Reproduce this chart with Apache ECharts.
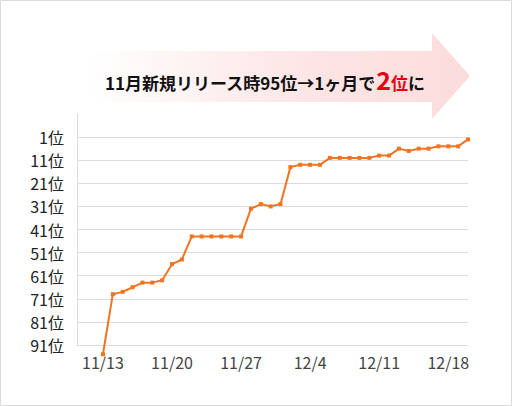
<!DOCTYPE html>
<html>
<head>
<meta charset="utf-8">
<script src="https://cdn.jsdelivr.net/npm/echarts@6/dist/echarts.min.js"></script>
<style>
  html, body { margin: 0; padding: 0; background: #fff; }
  #chart { width: 512px; height: 406px; }
</style>
</head>
<body>
<div id="chart"></div>
<script>
// Daily ranking after release
const dates = [
  '11/13','11/14','11/15','11/16','11/17','11/18','11/19',
  '11/20','11/21','11/22','11/23','11/24','11/25','11/26',
  '11/27','11/28','11/29','11/30','12/1','12/2','12/3',
  '12/4','12/5','12/6','12/7','12/8','12/9','12/10',
  '12/11','12/12','12/13','12/14','12/15','12/16','12/17',
  '12/18','12/19','12/20'
];
const ranks = [
  95, 69, 68, 66, 64, 64, 63,
  56, 54, 44, 44, 44, 44, 44,
  44, 32, 30, 31, 30, 14, 13,
  13, 13, 10, 10, 10, 10, 10,
  9, 9, 6, 7, 6, 6, 5,
  5, 5, 2
];
const rankTicks = [1, 11, 21, 31, 41, 51, 61, 71, 81, 91];
const dateTicks = ['11/13', '11/20', '11/27', '12/4', '12/11', '12/18'];

const headline = '11月新規リリース時95位→1ヶ月で';
const headlineRank = '2';
const headlineUnit = '位';
const headlineTail = 'に';

const chart = echarts.init(document.getElementById('chart'), null, { renderer: 'svg' });

// axis values are rank - 1 so the grid ticks fall on multiples of 10
const seriesData = ranks.map((r, i) => [i, r - 1]);
const labelIdx = dateTicks.map(d => dates.indexOf(d));

const font = '"Noto Sans CJK JP", "Noto Sans", sans-serif';

chart.setOption({
  animation: false,
  backgroundColor: '#fff',
  grid: { left: 77, right: 44, top: 114, bottom: 61, containLabel: false },
  xAxis: {
    type: 'value',
    min: -2.63,
    max: dates.length - 1,
    axisLine: { show: true, onZero: false, lineStyle: { color: '#dcdcdc', width: 1 } },
    axisTick: { show: false },
    splitLine: { show: false },
    axisLabel: {
      customValues: labelIdx,
      formatter: v => dates[Math.round(v)] || '',
      color: '#444',
      fontSize: 16,
      fontFamily: font,
      margin: 9
    }
  },
  yAxis: {
    type: 'value',
    inverse: true,
    min: -10,
    max: 90,
    interval: 10,
    axisLine: { show: true, onZero: false, lineStyle: { color: '#dcdcdc', width: 1 } },
    axisTick: { show: false },
    splitLine: { show: true, showMinLine: false, lineStyle: { color: '#dcdcdc', width: 1 } },
    axisLabel: {
      formatter: v => (rankTicks.indexOf(v + 1) >= 0 ? (v + 1) + '位' : ''),
      color: '#222',
      fontSize: 16,
      fontFamily: font,
      margin: 13
    }
  },
  series: [{
    type: 'line',
    data: seriesData,
    clip: false,
    symbol: 'rect',
    symbolSize: 4,
    showAllSymbol: true,
    lineStyle: { color: '#f07422', width: 2 },
    itemStyle: { color: '#f07422' }
  }],
  graphic: [
    {
      type: 'rect',
      shape: { x: 0.5, y: 0.5, width: 511, height: 405 },
      style: { fill: 'none', stroke: '#dcdcdc', lineWidth: 1 },
      silent: true
    },
    {
      type: 'polygon',
      shape: {
        points: [[88, 51], [432, 51], [432, 33], [470, 76], [432, 119], [432, 102], [88, 102]]
      },
      style: {
        fill: new echarts.graphic.LinearGradient(0, 0, 1, 0, [
          { offset: 0, color: '#ffffff' },
          { offset: 0.55, color: '#fde6e6' },
          { offset: 1, color: '#fcdcdc' }
        ])
      },
      silent: true
    },
    {
      type: 'text',
      x: 105,
      y: 78,
      style: {
        text: '{a|' + headline + '}{b|' + headlineRank + '}{c|' + headlineUnit + '}{a|' + headlineTail + '}',
        verticalAlign: 'middle',
        rich: {
          a: { fontSize: 17, fontWeight: 'bold', fill: '#111', fontFamily: font, verticalAlign: 'bottom', lineHeight: 26 },
          b: { fontSize: 25, fontWeight: 'bold', fill: '#e60012', fontFamily: font, verticalAlign: 'bottom', lineHeight: 26 },
          c: { fontSize: 17, fontWeight: 'bold', fill: '#e60012', fontFamily: font, verticalAlign: 'bottom', lineHeight: 26 }
        }
      },
      silent: true
    }
  ]
});
</script>
</body>
</html>
